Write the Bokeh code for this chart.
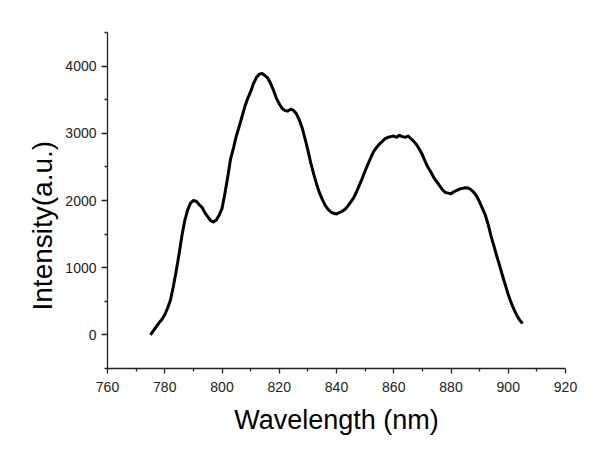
import numpy as np
from bokeh.plotting import figure
from bokeh.models import FixedTicker, Range1d, Title
from bokeh.embed import file_html
from bokeh.resources import INLINE

# Data
wavelength = [775, 776, 777, 778, 779, 780, 781, 782, 783, 784, 785, 786, 787, 788, 789,
              790, 791, 792, 793, 794, 795, 796, 797, 798, 799, 800, 801, 802, 803, 804,
              805, 806, 807, 808, 809, 810, 811, 812, 813, 814, 815, 816, 817, 818, 819,
              820, 821, 822, 823, 824, 825, 826, 827, 828, 829, 830, 831, 832, 833, 834,
              835, 836, 837, 838, 839, 840, 841, 842, 843, 844, 845, 846, 847, 848, 849,
              850, 851, 852, 853, 854, 855, 856, 857, 858, 859, 860, 861, 862, 863, 864,
              865, 866, 867, 868, 869, 870, 871, 872, 873, 874, 875, 876, 877, 878, 879,
              880, 881, 882, 883, 884, 885, 886, 887, 888, 889, 890, 891, 892, 893, 894,
              895, 896, 897, 898, 899, 900, 901, 902, 903, 904, 905]
intensity = [0, 60, 120, 180, 230, 300, 400, 520, 720, 950, 1200, 1480, 1700, 1860, 1960,
             2000, 1990, 1940, 1900, 1820, 1760, 1700, 1680, 1710, 1780, 1880, 2100, 2350, 2620, 2780,
             2960, 3100, 3250, 3400, 3520, 3620, 3740, 3830, 3880, 3890, 3860, 3820, 3740, 3640, 3520,
             3440, 3370, 3340, 3330, 3360, 3340, 3290, 3200, 3080, 2920, 2750, 2560, 2400, 2250, 2120,
             2020, 1930, 1870, 1830, 1810, 1800, 1820, 1840, 1870, 1920, 1980, 2040, 2130, 2230, 2330,
             2440, 2540, 2640, 2730, 2790, 2840, 2880, 2920, 2940, 2950, 2960, 2940, 2970, 2950, 2940,
             2960, 2920, 2880, 2830, 2760, 2680, 2580, 2490, 2420, 2340, 2280, 2220, 2160, 2120, 2110,
             2100, 2130, 2150, 2170, 2180, 2190, 2185, 2160, 2120, 2060, 1980, 1880, 1780, 1640, 1470,
             1320, 1170, 1030, 880, 740, 600, 480, 380, 290, 220, 170]

x_major = [760, 780, 800, 820, 840, 860, 880, 900, 920]
x_minor = [770, 790, 810, 830, 850, 870, 890, 910]
y_major = [0, 1000, 2000, 3000, 4000]
y_minor = [-500, 500, 1500, 2500, 3500, 4500]

FONT = "Liberation Sans"
AX = "#222222"

p = figure(width=594, height=441, output_backend="svg", toolbar_location=None,
           x_range=Range1d(760, 920), y_range=Range1d(-500, 4500),
           min_border_left=107, min_border_right=29, min_border_top=32, min_border_bottom=73)
p.outline_line_color = None
p.xgrid.visible = False
p.ygrid.visible = False
p.background_fill_color = "white"
p.border_fill_color = "white"

p.line(wavelength, intensity, line_color="black", line_width=3, line_join="round")

p.xaxis.ticker = FixedTicker(ticks=x_major, minor_ticks=x_minor)
p.yaxis.ticker = FixedTicker(ticks=y_major, minor_ticks=y_minor)

for ax in (p.xaxis[0], p.yaxis[0]):
    ax.axis_line_color = AX
    ax.axis_line_width = 1.3
    ax.major_tick_line_color = AX
    ax.minor_tick_line_color = AX
    ax.major_tick_line_width = 1.3
    ax.minor_tick_line_width = 1.3
    ax.major_tick_in = 0
    ax.minor_tick_in = 0
    ax.minor_tick_out = 3
    ax.major_label_text_font = FONT
    ax.major_label_text_font_size = "14px"
    ax.major_label_text_color = AX
    ax.axis_label_text_font = FONT
    ax.axis_label_text_font_style = "normal"
    ax.axis_label_text_color = "black"

p.xaxis.major_tick_out = 5
p.yaxis.major_tick_out = 6
p.xaxis.major_label_standoff = 8
p.yaxis.major_label_standoff = 5

p.xaxis.axis_label = "Wavelength (nm)"
p.xaxis.axis_label_text_font_size = "27px"
p.xaxis.axis_label_standoff = 10

ytitle = Title(text="Intensity(a.u.)", align="left", offset=58,
               text_font=FONT, text_font_size="28px", text_font_style="normal",
               text_color="black")
p.add_layout(ytitle, "left")

open("out.html", "w").write(file_html(p, INLINE))
